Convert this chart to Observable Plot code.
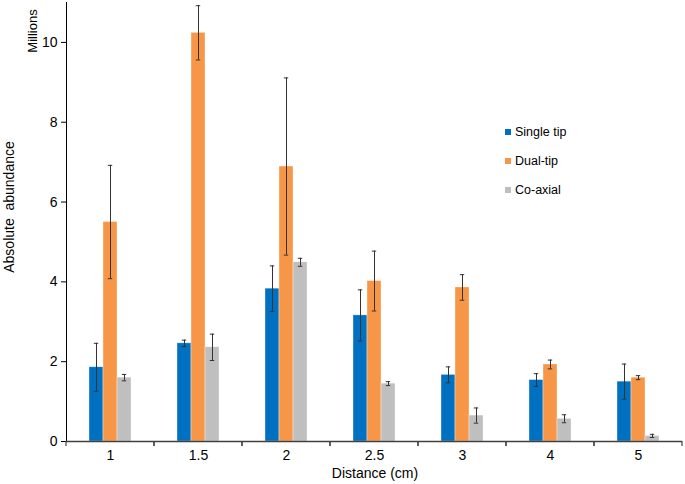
<!DOCTYPE html>
<html>
<head>
<meta charset="utf-8">
<script src="https://cdn.jsdelivr.net/npm/d3@7"></script>
<script src="https://cdn.jsdelivr.net/npm/@observablehq/plot@0.6"></script>
<style>
  html, body { margin: 0; padding: 0; background: #fff; }
  #wrap { position: relative; width: 685px; height: 484px; font-family: "Liberation Sans", Arial, sans-serif; color: #000; }
  .lbl { position: absolute; white-space: nowrap; font-size: 14px; line-height: 1; }
  .legend { position: absolute; left: 505px; top: 125px; font-size: 12.5px; }
  .legend .item { display: flex; align-items: center; height: 14px; margin-bottom: 15px; }
  .legend .sw { width: 6px; height: 6px; margin-right: 4px; }
</style>
</head>
<body>
<div id="wrap"></div>
<script>
// ---- data ----
const distances = ["1", "1.5", "2", "2.5", "3", "4", "5"];
const series = ["Single tip", "Dual-tip", "Co-axial"];
const colors = ["#0070C0", "#F79646", "#BFBFBF"];
const yTicks = [0, 2, 4, 6, 8, 10];

const singleTip    = [1.86, 2.46, 3.83, 3.16, 1.67, 1.54, 1.50];
const singleTipErr = [0.60, 0.08, 0.57, 0.64, 0.20, 0.16, 0.44];
const dualTip      = [5.50, 10.24, 6.89, 4.02, 3.86, 1.93, 1.60];
const dualTipErr   = [1.42, 0.68, 2.22, 0.75, 0.32, 0.11, 0.05];
const coAxial      = [1.60, 2.36, 4.49, 1.45, 0.65, 0.57, 0.14];
const coAxialErr   = [0.08, 0.33, 0.10, 0.05, 0.19, 0.10, 0.04];

const values = [singleTip, dualTip, coAxial];
const errors = [singleTipErr, dualTipErr, coAxialErr];

const data = [];
distances.forEach((d, i) => {
  series.forEach((s, j) => {
    data.push({distance: d, series: s, value: values[j][i], err: errors[j][i]});
  });
});

// tick marks at group boundaries (per facet)
function groupTicks(index, scales, vals, dimensions) {
  let x0, x1;
  if (scales.x && scales.x.range) { [x0, x1] = scales.x.range(); }
  else { x0 = dimensions.marginLeft; x1 = dimensions.width - dimensions.marginRight; }
  const y0 = scales.y(0);
  const g = d3.create("svg:g").attr("stroke", "#404040").attr("stroke-width", 1.2);
  for (const x of [x0, x1]) {
    g.append("line").attr("x1", x).attr("x2", x).attr("y1", y0).attr("y2", y0 + 5);
  }
  return g.node();
}

const chart = Plot.plot({
  width: 685,
  height: 484,
  marginLeft: 66,
  marginRight: 3,
  marginTop: 2,
  marginBottom: 43,
  style: {fontFamily: "'Liberation Sans', Arial, sans-serif", fontSize: "14px", color: "#000", background: "#fff"},
  fx: {domain: distances, padding: 0, label: null, tickSize: 0, tickPadding: 9},
  x: {domain: series, paddingInner: 0, paddingOuter: 1.5, axis: null},
  y: {domain: [0, 11], ticks: yTicks, tickSize: 5, label: null, line: true},
  color: {domain: series, range: colors},
  marks: [
    Plot.barY(data, {fx: "distance", x: "series", y: "value", fill: "series", stroke: "#fff", strokeWidth: 0.6, strokeOpacity: 0.6}),
    Plot.ruleX(data, {fx: "distance", x: "series", y1: d => d.value - d.err, y2: d => d.value + d.err, stroke: "#333", strokeWidth: 1}),
    Plot.tickY(data, {fx: "distance", x: "series", y: d => d.value + d.err, stroke: "#333", strokeWidth: 1, insetLeft: 4.8, insetRight: 4.8}),
    Plot.tickY(data, {fx: "distance", x: "series", y: d => d.value - d.err, stroke: "#333", strokeWidth: 1, insetLeft: 4.8, insetRight: 4.8}),
    Plot.ruleY([0], {stroke: "#404040", strokeWidth: 1.5}),
    groupTicks
  ]
});

const wrap = document.getElementById("wrap");
wrap.appendChild(chart);

// axis titles
const yTitle = document.createElement("div");
yTitle.className = "lbl";
yTitle.textContent = "Absolute  abundance";
yTitle.style.whiteSpace = "pre";
yTitle.style.left = "9px";
yTitle.style.top = "207px";
yTitle.style.transform = "translate(-50%, -50%) rotate(-90deg)";
wrap.appendChild(yTitle);

const mTitle = document.createElement("div");
mTitle.className = "lbl";
mTitle.textContent = "Millions";
mTitle.style.left = "32px";
mTitle.style.top = "31px";
mTitle.style.fontSize = "13px";
mTitle.style.transform = "translate(-50%, -50%) rotate(-90deg)";
wrap.appendChild(mTitle);

const xTitle = document.createElement("div");
xTitle.className = "lbl";
xTitle.textContent = "Distance (cm)";
xTitle.style.left = "375px";
xTitle.style.top = "473px";
xTitle.style.transform = "translate(-50%, -50%)";
wrap.appendChild(xTitle);

// legend
const legend = document.createElement("div");
legend.className = "legend";
series.forEach((s, j) => {
  const item = document.createElement("div");
  item.className = "item";
  const sw = document.createElement("span");
  sw.className = "sw";
  sw.style.background = colors[j];
  const t = document.createElement("span");
  t.textContent = s;
  item.appendChild(sw);
  item.appendChild(t);
  legend.appendChild(item);
});
wrap.appendChild(legend);
</script>
</body>
</html>
